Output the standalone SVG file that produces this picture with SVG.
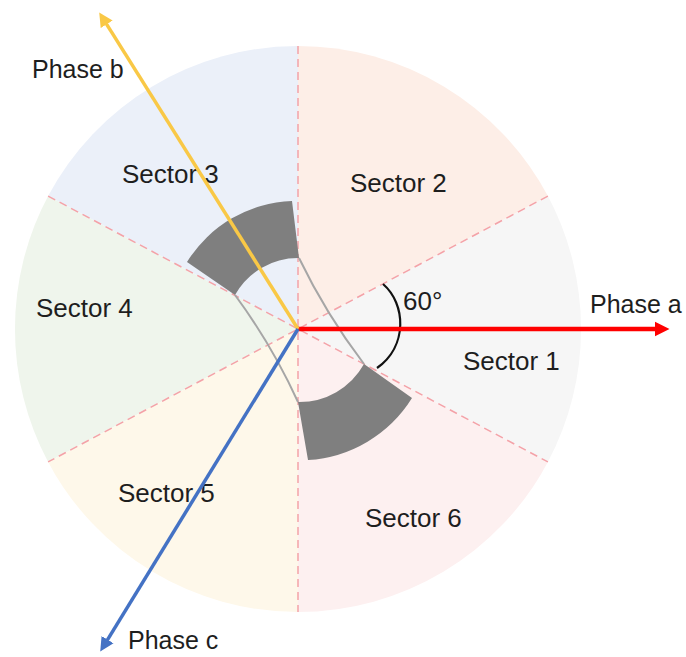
<svg xmlns="http://www.w3.org/2000/svg" width="686" height="657" viewBox="0 0 686 657">
<style>
  text { font-family: "Liberation Sans", Arial, sans-serif; font-size: 26px; fill: #1e1e1e; }
  .ph { font-size: 25px; }
  .div { stroke: #f4a2a8; stroke-width: 1.5; stroke-dasharray: 8 5; fill: none; }
  .band { fill: #7f7f7f; }
  .thin { stroke: #a6a6a6; stroke-width: 2; fill: none; }
</style>
<defs>
  <marker id="ar" markerUnits="userSpaceOnUse" markerWidth="16" markerHeight="16" viewBox="0 -8 16 16" refX="0.5" refY="0" orient="auto">
    <path d="M0,-7.5 L15,0 L0,7.5 Z" fill="#ff0000"/>
  </marker>
  <marker id="ay" markerUnits="userSpaceOnUse" markerWidth="16" markerHeight="16" viewBox="0 -8 16 16" refX="0.5" refY="0" orient="auto">
    <path d="M0,-7 L14,0 L0,7 Z" fill="#f9c846"/>
  </marker>
  <marker id="ab" markerUnits="userSpaceOnUse" markerWidth="16" markerHeight="16" viewBox="0 -8 16 16" refX="0.5" refY="0" orient="auto">
    <path d="M0,-7 L14,0 L0,7 Z" fill="#4472c4"/>
  </marker>
</defs>

<g id="sector1">
  <path d="M298,329 L547.9,461.9 A283,283 0 0 0 547.9,196.1 Z" fill="#f6f6f6"/>
  <text x="463" y="370">Sector 1</text>
</g>
<g id="sector2">
  <path d="M298,329 L547.9,196.1 A283,283 0 0 0 298,46 Z" fill="#fdeee7"/>
  <text x="350" y="192">Sector 2</text>
</g>
<g id="sector3">
  <path d="M298,329 L298,46 A283,283 0 0 0 48.1,196.1 Z" fill="#ebf0f9"/>
  <text x="122" y="183">Sector 3</text>
</g>
<g id="sector4">
  <path d="M298,329 L48.1,196.1 A283,283 0 0 0 48.1,461.9 Z" fill="#eff5ec"/>
  <text x="36" y="317">Sector 4</text>
</g>
<g id="sector5">
  <path d="M298,329 L48.1,461.9 A283,283 0 0 0 298,612 Z" fill="#fef8ea"/>
  <text x="118" y="502">Sector 5</text>
</g>
<g id="sector6">
  <path d="M298,329 L298,612 A283,283 0 0 0 547.9,461.9 Z" fill="#fdf0f0"/>
  <text x="365" y="527">Sector 6</text>
</g>

<g id="dividers">
  <line class="div" x1="298" y1="46" x2="298" y2="612"/>
  <line class="div" x1="547.9" y1="196.1" x2="48.1" y2="461.9"/>
  <line class="div" x1="48.1" y1="196.1" x2="547.9" y2="461.9"/>
</g>

<g id="rotor">
  <path class="band" d="M299,258 L292,201 A129,129 0 0 0 187,262 L235,295 A72,72 0 0 1 299,258 Z"/>
  <path class="band" d="M298,402 L308,460 A132,132 0 0 0 412,398 L364,364 A74,74 0 0 1 298,402 Z"/>
  <path class="thin" d="M299,258 Q326,314 364,364"/>
  <path class="thin" d="M235,295 Q272,345 298,402"/>
</g>

<g id="angle">
  <path d="M383,284 C406,304 408,346 377,368" stroke="#111" stroke-width="2.2" fill="none"/>
  <text x="403" y="310">60°</text>
</g>

<g id="connectors">
  <line x1="298" y1="329" x2="655" y2="329" stroke="#ff0000" stroke-width="4.5" marker-end="url(#ar)"/>
  <line x1="298" y1="329" x2="106.4" y2="23.9" stroke="#f9c846" stroke-width="3.5" marker-end="url(#ay)"/>
  <line x1="298" y1="329" x2="107.3" y2="640.1" stroke="#4472c4" stroke-width="3.5" marker-end="url(#ab)"/>
</g>

<g id="labels">
  <text class="ph" x="590" y="313">Phase a</text>
  <text class="ph" x="32" y="78">Phase b</text>
  <text class="ph" x="128" y="649">Phase c</text>
</g>
</svg>
